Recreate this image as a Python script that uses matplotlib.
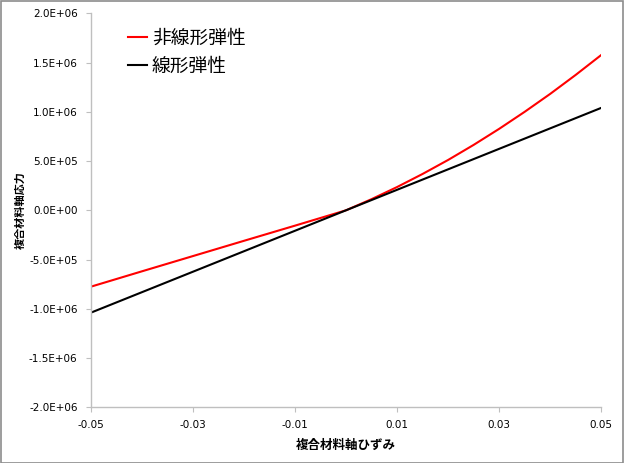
import matplotlib
matplotlib.use('Agg')
from matplotlib import pyplot as plt
from matplotlib.patches import Rectangle
from matplotlib.ticker import FuncFormatter, FixedLocator

plt.rcParams['font.family'] = ['DejaVu Sans', 'Noto Sans CJK JP']

# strain (x) and stress (y)
strain_nonlinear = [-0.05, -0.04, -0.03, -0.02, -0.01, 0.0,
                    0.005, 0.01, 0.015, 0.02, 0.025, 0.03, 0.035, 0.04, 0.045, 0.05]
stress_nonlinear = [-7.76e5, -6.2e5, -4.65e5, -3.1e5, -1.56e5, 0.0,
                    1.13e5, 2.36e5, 3.69e5, 5.11e5, 6.64e5, 8.27e5, 1.0e6, 1.182e6, 1.375e6, 1.577e6]
strain_linear = [-0.05, 0.0, 0.05]
stress_linear = [-1.04e6, 0.0, 1.04e6]

x_ticks = [-0.05, -0.03, -0.01, 0.01, 0.03, 0.05]
y_ticks = [-2.0e6, -1.5e6, -1.0e6, -5.0e5, 0.0, 5.0e5, 1.0e6, 1.5e6, 2.0e6]

label_nonlinear = '非線形弾性'
label_linear = '線形弾性'
x_title = '複合材料軸ひずみ'
y_title = '複合材料軸応力'


def sci_fmt(v, pos):
    return '%.1E' % v


fig = plt.figure(figsize=(6.24, 4.63), dpi=100)
ax = fig.add_axes([0.1454, 0.1203, 0.8182, 0.851])

ax.plot(strain_nonlinear, stress_nonlinear, color='#ff0000', lw=1.5, label=label_nonlinear)
ax.plot(strain_linear, stress_linear, color='#000000', lw=1.5, label=label_linear)

ax.set_xlim(-0.05, 0.05)
ax.set_ylim(-2.0e6, 2.0e6)
ax.xaxis.set_major_locator(FixedLocator(x_ticks))
ax.yaxis.set_major_locator(FixedLocator(y_ticks))
ax.xaxis.set_major_formatter(FuncFormatter(lambda v, p: '%.2f' % v))
ax.yaxis.set_major_formatter(FuncFormatter(sci_fmt))

for side in ['top', 'right']:
    ax.spines[side].set_visible(False)
for side in ['left', 'bottom']:
    ax.spines[side].set_color('#bfbfbf')
    ax.spines[side].set_linewidth(1.0)
ax.tick_params(axis='both', direction='out', length=3.5, width=0.8, color='#bfbfbf',
               labelsize=7.5, labelcolor='#000000')
ax.tick_params(axis='x', pad=5.5)
ax.tick_params(axis='y', pad=6.0)

ax.set_xlabel(x_title, fontsize=9, fontweight='bold', labelpad=6.5)
ax.set_ylabel(y_title, fontsize=8, fontweight='bold', labelpad=2.5)

ax.legend(loc='upper left', bbox_to_anchor=(0.040, 1.004), frameon=False,
          fontsize=13.5, handlelength=1.0, handletextpad=0.27, labelspacing=0.5)

# outer chart border
fig.patches.append(Rectangle((0.001, 0.001), 0.997, 0.997, transform=fig.transFigure,
                             fill=False, edgecolor='#8c8c8c', lw=1.2))

fig.savefig('out.png', dpi=100)
